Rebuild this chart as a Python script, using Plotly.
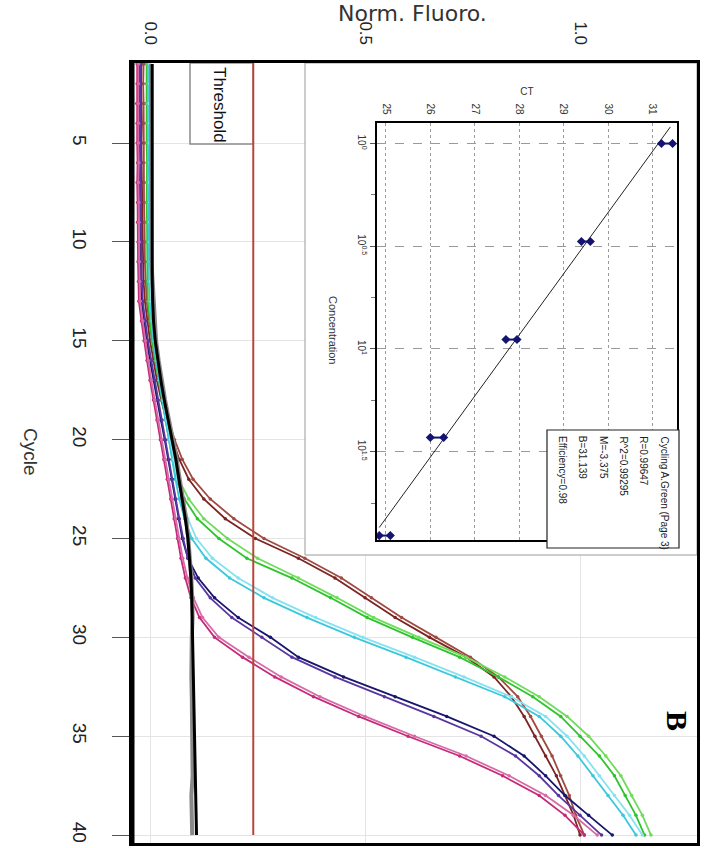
import plotly.graph_objects as go

# ---------------- data ----------------
CYCLES = list(range(1, 41))

BROWN_A = [-0.020, -0.021, -0.020, -0.019, -0.020, -0.020, -0.019, -0.018, -0.018, -0.017, -0.016, -0.015,
           -0.012, -0.006, 0.000, 0.008, 0.016, 0.026, 0.038, 0.052, 0.068, 0.090, 0.125, 0.175, 0.245,
           0.345, 0.430, 0.500, 0.570, 0.650, 0.735, 0.800, 0.840, 0.870, 0.895, 0.920, 0.945, 0.965, 0.985, 1.000]
BROWN_B = [-0.015, -0.016, -0.015, -0.015, -0.014, -0.015, -0.014, -0.014, -0.013, -0.013, -0.012, -0.010,
           -0.008, -0.002, 0.005, 0.012, 0.021, 0.031, 0.043, 0.057, 0.075, 0.100, 0.140, 0.195, 0.265,
           0.360, 0.445, 0.515, 0.585, 0.665, 0.745, 0.810, 0.855, 0.885, 0.910, 0.935, 0.955, 0.975, 0.990, 1.010]
GREEN_A = [-0.008, -0.008, -0.009, -0.008, -0.008, -0.007, -0.008, -0.008, -0.007, -0.007, -0.006, -0.006,
           -0.005, 0.000, 0.005, 0.012, 0.020, 0.028, 0.036, 0.044, 0.051, 0.060, 0.080, 0.110, 0.160,
           0.225, 0.330, 0.420, 0.505, 0.610, 0.720, 0.810, 0.890, 0.955, 1.000, 1.045, 1.080, 1.105, 1.130, 1.150]
GREEN_B = [-0.005, -0.005, -0.006, -0.005, -0.005, -0.004, -0.005, -0.004, -0.004, -0.004, -0.003, -0.003,
           -0.002, 0.003, 0.008, 0.015, 0.023, 0.031, 0.039, 0.047, 0.055, 0.066, 0.090, 0.125, 0.180,
           0.250, 0.345, 0.435, 0.520, 0.625, 0.735, 0.825, 0.905, 0.970, 1.020, 1.060, 1.095, 1.120, 1.145, 1.165]
CYAN_A = [-0.004, -0.004, -0.005, -0.004, -0.004, -0.003, -0.004, -0.004, -0.003, -0.003, -0.002, -0.002,
          0.000, 0.004, 0.008, 0.014, 0.021, 0.028, 0.036, 0.044, 0.051, 0.059, 0.068, 0.080, 0.097,
          0.130, 0.185, 0.265, 0.365, 0.475, 0.595, 0.710, 0.825, 0.905, 0.955, 0.995, 1.030, 1.065, 1.100, 1.130]
CYAN_B = [-0.001, -0.001, -0.002, -0.001, -0.001, 0.000, -0.001, 0.000, 0.000, 0.000, 0.001, 0.001,
          0.003, 0.007, 0.011, 0.017, 0.024, 0.031, 0.039, 0.047, 0.055, 0.064, 0.075, 0.088, 0.108,
          0.145, 0.205, 0.285, 0.385, 0.495, 0.615, 0.730, 0.840, 0.920, 0.970, 1.010, 1.045, 1.080, 1.115, 1.145]
NAVY_A = [-0.025, -0.025, -0.026, -0.025, -0.025, -0.024, -0.025, -0.024, -0.024, -0.023, -0.023, -0.022,
          -0.020, -0.014, -0.008, 0.000, 0.008, 0.016, 0.025, 0.034, 0.042, 0.050, 0.058, 0.066, 0.075,
          0.088, 0.112, 0.150, 0.205, 0.280, 0.345, 0.450, 0.570, 0.690, 0.800, 0.870, 0.920, 0.965, 1.020, 1.075]
NAVY_B = [-0.022, -0.022, -0.023, -0.022, -0.022, -0.021, -0.022, -0.021, -0.021, -0.020, -0.020, -0.019,
          -0.017, -0.011, -0.005, 0.003, 0.011, 0.019, 0.028, 0.036, 0.044, 0.052, 0.060, 0.068, 0.077,
          0.088, 0.105, 0.140, 0.190, 0.260, 0.330, 0.430, 0.545, 0.660, 0.770, 0.850, 0.905, 0.950, 1.000, 1.050]
MAGENTA_A = [-0.030, -0.030, -0.031, -0.030, -0.030, -0.029, -0.030, -0.029, -0.029, -0.028, -0.028, -0.027,
             -0.026, -0.020, -0.014, -0.007, 0.000, 0.008, 0.016, 0.024, 0.032, 0.040, 0.048, 0.056, 0.064,
             0.072, 0.082, 0.095, 0.115, 0.150, 0.215, 0.290, 0.380, 0.485, 0.600, 0.720, 0.820, 0.905, 0.965, 1.010]
MAGENTA_B = [-0.027, -0.027, -0.028, -0.027, -0.027, -0.026, -0.027, -0.026, -0.026, -0.025, -0.025, -0.024,
             -0.023, -0.017, -0.011, -0.004, 0.003, 0.011, 0.019, 0.027, 0.035, 0.043, 0.051, 0.059, 0.067,
             0.076, 0.087, 0.101, 0.122, 0.160, 0.230, 0.305, 0.395, 0.500, 0.615, 0.735, 0.835, 0.920, 0.985, 1.040]
NTC_BLACK = [0.005, 0.005, 0.005, 0.004, 0.005, 0.005, 0.005, 0.004, 0.005, 0.005, 0.005, 0.005,
             0.006, 0.008, 0.012, 0.018, 0.025, 0.033, 0.042, 0.052, 0.060, 0.067, 0.075, 0.082, 0.088,
             0.092, 0.095, 0.097, 0.098, 0.099, 0.100, 0.101, 0.102, 0.102, 0.103, 0.104, 0.105, 0.106, 0.107, 0.108]
NTC_GRAY = [0.002, 0.002, 0.002, 0.002, 0.002, 0.002, 0.002, 0.002, 0.002, 0.002, 0.003, 0.006,
            0.008, 0.010, 0.014, 0.020, 0.027, 0.035, 0.044, 0.054, 0.062, 0.069, 0.077, 0.084, 0.089,
            0.093, 0.096, 0.098, 0.099, 0.097, 0.096, 0.096, 0.097, 0.097, 0.098, 0.098, 0.099, 0.096, 0.097, 0.098]

CURVES = [
    ("brown A", BROWN_A, "#7b2424"), ("brown B", BROWN_B, "#a04a40"),
    ("green A", GREEN_A, "#2fc42f"), ("green B", GREEN_B, "#6fdc5a"),
    ("cyan A", CYAN_A, "#3cc8dc"), ("cyan B", CYAN_B, "#86e2f0"),
    ("navy A", NAVY_A, "#16166e"), ("navy B", NAVY_B, "#5a36a0"),
    ("magenta A", MAGENTA_A, "#c42a78"), ("magenta B", MAGENTA_B, "#d86aa6"),
]

THRESHOLD = 0.24
THRESHOLD_CYCLES = [0.95, 40]

# standard curve inset
REP_CONC = [1, 3, 9, 27, 81]
REP_CT = [[31.20, 31.45], [29.40, 29.60], [27.70, 27.95], [26.00, 26.30], [24.85, 25.10]]
FIT_CONC = [0.83, 74.0]
FIT_CT = [31.40, 24.85]
CT_TICKS = [25, 26, 27, 28, 29, 30, 31]
CONC_TICKVALS = [1, 3.1623, 10, 31.623]
CONC_TICKTEXT = ["10<sup>0</sup>", "10<sup>0.5</sup>", "10<sup>1</sup>", "10<sup>1.5</sup>"]
CONC_MINOR = [1.7783, 5.6234, 17.783, 56.234]
LEGEND_LINES = ["Cycling A.Green (Page 3)", "R=0.99647", "R^2=0.99295", "M=-3.375", "B=31.139", "Efficiency=0.98"]

FLUORO_TICKS = [0.0, 0.5, 1.0]
FLUORO_TICKTEXT = ["0.0", "0.5", "1.0"]
CYCLE_TICKS = [5, 10, 15, 20, 25, 30, 35, 40]

X_RANGE = [-0.042, 1.272]
Y_RANGE = [40.4, 0.95]

# ---------------- figure ----------------
fig = go.Figure()

for name, vals, col in CURVES:
    fig.add_trace(go.Scatter(x=vals, y=CYCLES, mode="lines+markers", name=name,
                             line=dict(color=col, width=1.8),
                             marker=dict(color=col, size=3.5), xaxis="x", yaxis="y"))

fig.add_trace(go.Scatter(x=NTC_GRAY, y=CYCLES, mode="lines", name="NTC gray",
                         line=dict(color="#8a8a8a", width=4), xaxis="x", yaxis="y"))
fig.add_trace(go.Scatter(x=NTC_BLACK, y=CYCLES, mode="lines", name="NTC",
                         line=dict(color="#000000", width=3), xaxis="x", yaxis="y"))

fig.add_trace(go.Scatter(x=[THRESHOLD, THRESHOLD], y=THRESHOLD_CYCLES, mode="lines", name="Threshold",
                         line=dict(color="#b8453c", width=2), xaxis="x", yaxis="y"))

# inset: fit line + replicate points
fig.add_trace(go.Scatter(x=FIT_CT, y=FIT_CONC, mode="lines", line=dict(color="#222", width=1),
                         xaxis="x2", yaxis="y2"))
px, py = [], []
for c, cts in zip(REP_CONC, REP_CT):
    for ct in cts:
        px.append(ct)
        py.append(c)
    px.append(None)
    py.append(None)
fig.add_trace(go.Scatter(x=px, y=py, mode="lines+markers", line=dict(color="#141470", width=2),
                         marker=dict(symbol="diamond", size=7, color="#141470"),
                         xaxis="x2", yaxis="y2"))

L, R, T, B = 132, 23, 63, 5
W, H = 720, 848
PW, PH = W - L - R, H - T - B


def pxx(p):
    return (p - L) / PW


def pxy(p):
    return (H - B - p) / PH


def dx(p):  # pixel -> main x data
    return X_RANGE[0] + (p - L) / PW * (X_RANGE[1] - X_RANGE[0])


def dy(p):  # pixel -> main y data
    return Y_RANGE[1] + (p - T) / PH * (Y_RANGE[0] - Y_RANGE[1])


fig.update_layout(
    width=W, height=H,
    margin=dict(l=L, r=R, t=T, b=B, autoexpand=False),
    paper_bgcolor="white", plot_bgcolor="white",
    showlegend=False,
    font=dict(family="Liberation Sans, Arial, sans-serif", color="#222"),
    xaxis=dict(domain=[0, 1], range=X_RANGE, side="top", automargin=False,
               tickvals=FLUORO_TICKS, ticktext=FLUORO_TICKTEXT, tickangle=90,
               tickfont=dict(size=17, color="#222"), ticks="", ticklabelstandoff=9,
               showgrid=True, gridcolor="#e4e4e4", gridwidth=1, zeroline=False,
               showline=True, mirror=True, linecolor="black", linewidth=3),
    yaxis=dict(domain=[0, 1], range=Y_RANGE, automargin=False,
               tickvals=CYCLE_TICKS, tickangle=90, tickfont=dict(size=19, color="#222"),
               ticks="outside", ticklen=17, tickcolor="#555", tickwidth=1, ticklabelstandoff=16,
               showgrid=True, gridcolor="#e4e4e4", gridwidth=1, zeroline=False,
               showline=True, mirror=True, linecolor="black", linewidth=3),
    xaxis2=dict(domain=[pxx(377), pxx(677)], anchor="y2", side="top", range=[24.8, 31.55], automargin=False,
                tickvals=CT_TICKS, tickangle=90, tickfont=dict(size=10, color="#333"),
                ticks="", ticklabelstandoff=3,
                title=dict(text="CT", font=dict(size=10, color="#333"), standoff=6),
                showgrid=True, gridcolor="#9a9a9a", griddash="dot", gridwidth=1, zeroline=False,
                showline=True, mirror=True, linecolor="black", linewidth=2),
    yaxis2=dict(domain=[pxy(540), pxy(123)], anchor="x2", type="log", range=[1.93, -0.1], automargin=False,
                tickvals=CONC_TICKVALS, ticktext=CONC_TICKTEXT, tickangle=90,
                tickfont=dict(size=10, color="#333"), ticks="outside", ticklen=5, tickcolor="#555",
                minor=dict(tickvals=CONC_MINOR, ticks="outside", ticklen=4, tickcolor="#777", showgrid=False),
                showgrid=True, gridcolor="#9a9a9a", griddash="dash", gridwidth=1, zeroline=False,
                showline=True, mirror=True, linecolor="black", linewidth=2),
)

shapes = [
    # inset panel background (between main gridlines and traces)
    dict(type="rect", xref="x", yref="y", x0=dx(305), x1=X_RANGE[1], y0=dy(555), y1=Y_RANGE[1],
         line=dict(color="#9a9a9a", width=1), fillcolor="white", layer="between"),
    # threshold label box
    dict(type="rect", xref="x", yref="y", x0=dx(190), x1=THRESHOLD, y0=dy(144), y1=Y_RANGE[1],
         line=dict(color="#8a8a8a", width=1.5), fillcolor="white", layer="between"),
    # thicker left frame edge
    dict(type="line", xref="paper", yref="paper", x0=0, x1=0, y0=0, y1=1,
         line=dict(color="black", width=5), layer="above"),
    # inset legend box
    dict(type="rect", xref="paper", yref="paper", x0=pxx(547), x1=pxx(679), y0=pxy(548), y1=pxy(430),
         line=dict(color="#222", width=1.2), fillcolor="white", layer="above"),
]
fig.update_layout(shapes=shapes)

ann = [
    dict(text="Norm. Fluoro.", x=pxx(412), y=pxy(13), xref="paper", yref="paper",
         showarrow=False, font=dict(size=22, color="#333", family="DejaVu Sans, sans-serif"),
         xanchor="center", yanchor="middle"),
    dict(text="Cycle", x=pxx(31), y=pxy(452), xref="paper", yref="paper", textangle=90,
         showarrow=False, font=dict(size=19, color="#333"), xanchor="center", yanchor="middle"),
    dict(text="Threshold", x=pxx(220), y=pxy(105), xref="paper", yref="paper", textangle=90,
         showarrow=False, font=dict(size=17, color="#111"), xanchor="center", yanchor="middle"),
    dict(text="Concentration", x=pxx(333), y=pxy(330), xref="paper", yref="paper", textangle=90,
         showarrow=False, font=dict(size=11, color="#333"), xanchor="center", yanchor="middle"),
    dict(text="<b>B</b>", x=pxx(678), y=pxy(721), xref="paper", yref="paper", textangle=90,
         showarrow=False, font=dict(size=30, color="black", family="Liberation Serif, Times New Roman, serif"),
         xanchor="center", yanchor="middle"),
]
for i, line in enumerate(LEGEND_LINES):
    ann.append(dict(text=line, x=pxx(664 - i * 20.2), y=pxy(434), xref="paper", yref="paper",
                    textangle=90, showarrow=False, font=dict(size=10, color="#222"),
                    xanchor="center", yanchor="top"))
fig.update_layout(annotations=ann)

fig.write_html("out.html", config={"displayModeBar": False},
               post_script="document.body.style.margin='0';")
